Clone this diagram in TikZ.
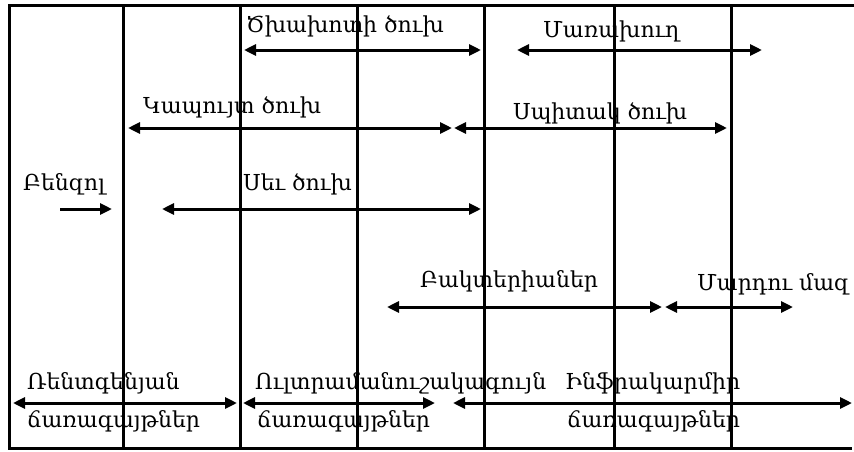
\documentclass[tikz,border=0pt]{standalone}
\usepackage{fontspec}
\setmainfont{DejaVu Serif}
\usetikzlibrary{arrows.meta}
\begin{document}
\begin{tikzpicture}[x=1pt,y=-1pt,
  gridline/.style={line width=3pt},
  tip/.tip={Triangle[length=12pt,width=11pt]},
  dbl/.style={line width=3pt,tip-tip},
  one/.style={line width=3pt,-tip},
  lbl/.style={font=\fontsize{22}{22}\selectfont, inner sep=0pt, anchor=west}]
\useasboundingbox (0,0) rectangle (854,451);
% frame
\coordinate (tl) at (9,5);
\coordinate (tr) at (854,5);
\coordinate (bl) at (9,448);
\coordinate (br) at (852,448);
\draw[gridline] (tr) -- (tl) -- (bl) -- (br);
% columns
\foreach \x [count=\i] in {123,240,357,484,614,731}{
  \coordinate (c\i t) at (\x,5);
  \coordinate (c\i b) at (\x,448);
  \draw[gridline] (c\i t) -- (c\i b);
}
% row 1
\coordinate (a1) at (244,50); \coordinate (b1) at (481,50);
\draw[dbl] (a1) -- (b1);
\node[lbl] (t1) at (246,26) {Ծխախոտի ծուխ};
\coordinate (a2) at (517,50); \coordinate (b2) at (762,50);
\draw[dbl] (a2) -- (b2);
\node[lbl] (t2) at (543,31) {Մառախուղ};
% row 2
\coordinate (a3) at (128,128); \coordinate (b3) at (452,128);
\draw[dbl] (a3) -- (b3);
\node[lbl] (t3) at (143,107) {Կապույտ ծուխ};
\coordinate (a4) at (454,128); \coordinate (b4) at (727,128);
\draw[dbl] (a4) -- (b4);
\node[lbl] (t4) at (513,113) {Սպիտակ ծուխ};
% row 3
\node[lbl] (t5) at (23,184) {Բենզոլ};
\coordinate (a5) at (60,209); \coordinate (b5) at (112,209);
\draw[one] (a5) -- (b5);
\coordinate (a6) at (162,209); \coordinate (b6) at (481,209);
\draw[dbl] (a6) -- (b6);
\node[lbl] (t6) at (243,184) {Սեւ ծուխ};
% row 4
\coordinate (a7) at (387,307); \coordinate (b7) at (662,307);
\draw[dbl] (a7) -- (b7);
\node[lbl] (t7) at (420,281) {Բակտերիաներ};
\coordinate (a8) at (665,307); \coordinate (b8) at (793,307);
\draw[dbl] (a8) -- (b8);
\node[lbl] (t8) at (697,284) {Մարդու մազ};
% row 5
\coordinate (a9) at (13,403); \coordinate (b9) at (237,403);
\draw[dbl] (a9) -- (b9);
\node[lbl] (t9) at (27,383) {Ռենտգենյան};
\node[lbl] (t10) at (27,421) {ճառագայթներ};
\coordinate (a10) at (243,403); \coordinate (b10) at (435,403);
\draw[dbl] (a10) -- (b10);
\node[lbl] (t11) at (255,383) {Ուլտրամանուշակագույն};
\node[lbl] (t12) at (257,421) {ճառագայթներ};
\coordinate (a11) at (453,403); \coordinate (b11) at (852,403);
\draw[dbl] (a11) -- (b11);
\node[lbl] (t13) at (565,383) {Ինֆրակարմիր};
\node[lbl] (t14) at (567,421) {ճառագայթներ};
\end{tikzpicture}
\end{document}
